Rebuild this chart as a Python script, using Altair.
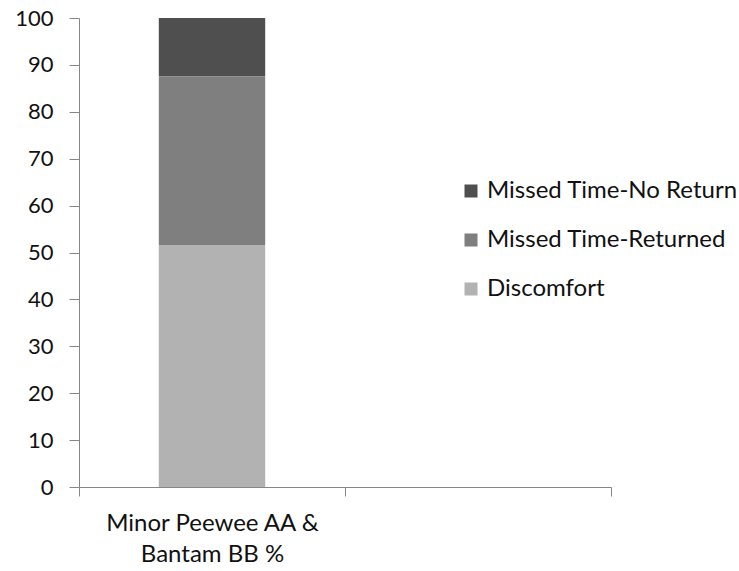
import altair as alt
import pandas as pd

category = "Minor Peewee AA & Bantam BB %"
series = ["Missed Time-No Return", "Missed Time-Returned", "Discomfort"]
values = [12.4, 36.0, 51.6]
stack_order = [3, 2, 1]
colors = ["#4f4f4f", "#7f7f7f", "#b2b2b2"]
x_domain = [category, "(empty)"]

df = pd.DataFrame({
    "cat": [category] * len(series),
    "series": series,
    "value": values,
    "ord": stack_order,
})

FONT = "Lato"

chart = alt.Chart(df).mark_bar(width=alt.RelativeBandSize(0.4)).encode(
    x=alt.X("cat:N", scale=alt.Scale(domain=x_domain, paddingInner=0, paddingOuter=0),
            axis=alt.Axis(title=None, labelAngle=0, tickBand="extent", tickSize=9,
                          domainColor="#868686", tickColor="#868686", labelFontSize=24,
                          labelFont=FONT, labelColor="#111", labelPadding=15,
                          labelLineHeight=31, labelBaseline="top", labelLimit=0,
                          labelExpr="datum.value == '" + category + "' ? ['Minor Peewee AA &', 'Bantam BB %'] : ''")),
    y=alt.Y("value:Q", stack="zero", scale=alt.Scale(domain=[0, 100], nice=False),
            axis=alt.Axis(title=None, values=list(range(0, 101, 10)), grid=False, tickSize=10,
                          domainColor="#868686", tickColor="#868686", labelFontSize=22,
                          labelFont=FONT, labelColor="#111", labelPadding=16)),
    color=alt.Color("series:N", scale=alt.Scale(domain=series, range=colors),
                    legend=alt.Legend(title=None, orient="none", legendX=380, legendY=161,
                                      symbolType="square", symbolSize=169, symbolStrokeWidth=0,
                                      labelFontSize=24, labelFont=FONT, labelColor="#111",
                                      labelOffset=4, rowPadding=25, labelLimit=0)),
    order=alt.Order("ord:Q"),
).properties(
    width=532, height=469,
    autosize=alt.AutoSizeParams(type="none"),
    padding={"left": 79, "top": 18, "right": 128, "bottom": 84},
).configure_view(stroke=None)

chart.save("out.html", embed_options={"renderer": "svg", "actions": False})
